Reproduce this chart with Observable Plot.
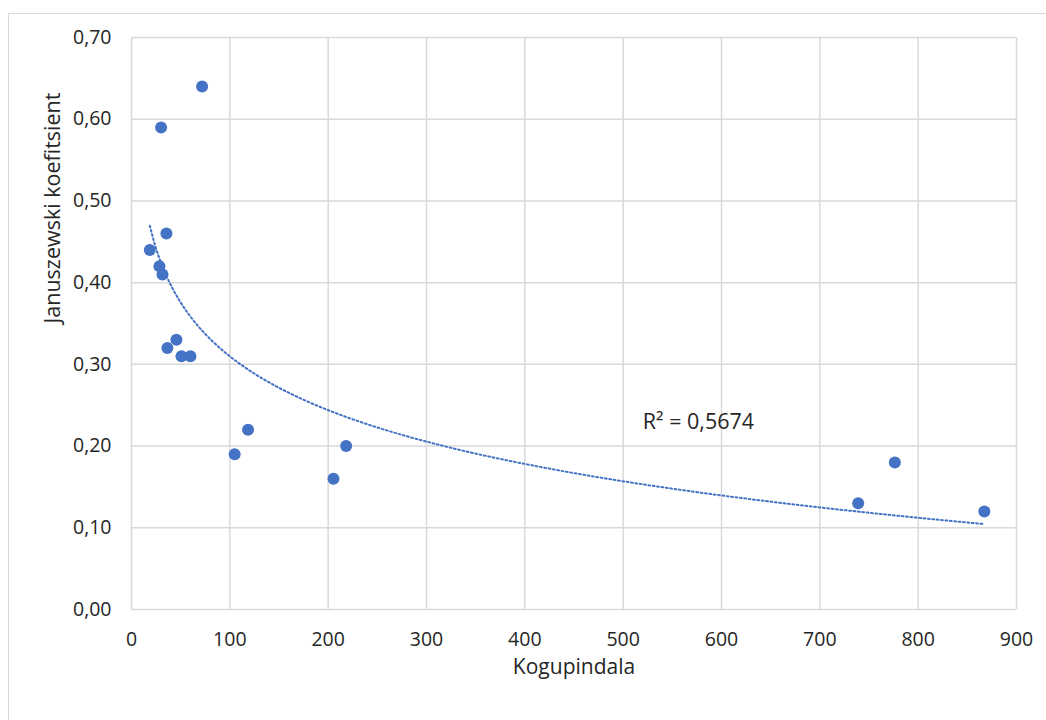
<!DOCTYPE html>
<html>
<head>
<meta charset="utf-8">
<script src="https://cdn.jsdelivr.net/npm/d3@7"></script>
<script src="https://cdn.jsdelivr.net/npm/@observablehq/plot@0.6"></script>
<style>
  html, body { margin: 0; padding: 0; background: #fff; }
  #wrap { position: relative; width: 1046px; height: 720px; overflow: hidden; }
  #border { position: absolute; left: 8px; top: 13px; width: 1200px; height: 900px; border: 1.5px solid #d9d9d9; box-sizing: border-box; }
  #chart { position: absolute; left: 0; top: 0; }
</style>
</head>
<body>
<div id="wrap"><div id="border"></div><div id="chart"></div></div>
<script>
// Data
const kogupindala = [18.6, 28.4, 31.5, 35.5, 45.7, 36.5, 50.8, 59.9, 71.8, 30.1, 104.9, 118.5, 205.4, 218.3, 739, 776.3, 867.3];
const januszewski = [0.44, 0.42, 0.41, 0.46, 0.33, 0.32, 0.31, 0.31, 0.64, 0.59, 0.19, 0.22, 0.16, 0.20, 0.13, 0.18, 0.12];
const xTicks = [0, 100, 200, 300, 400, 500, 600, 700, 800, 900];
const yTicks = [0, 0.1, 0.2, 0.3, 0.4, 0.5, 0.6, 0.7];
const xTitle = "Kogupindala";
const yTitle = "Januszewski koefitsient";
const r2Text = "R² = 0,5674";
const r2Pos = {x: 520, y: 0.229};

const points = kogupindala.map((x, i) => ({x, y: januszewski[i]}));

// Logarithmic trendline fitted to the data: y = a ln(x) + b
const L = kogupindala.map(Math.log);
const mL = d3.mean(L), mY = d3.mean(januszewski);
const sxy = d3.sum(L, (l, i) => (l - mL) * (januszewski[i] - mY));
const sxx = d3.sum(L, l => (l - mL) ** 2);
const a = sxy / sxx, b = mY - a * mL;
const [xmin, xmax] = d3.extent(kogupindala);
const trend = d3.range(0, 201).map(i => {
  const x = xmin + (xmax - xmin) * i / 200;
  return {x, y: a * Math.log(x) + b};
});

const font = "'Open Sans', sans-serif";
const grid = "#d9d9d9";
const blue = "#4472C4";
const ink = "#262626";

const chart = Plot.plot({
  width: 1046,
  height: 720,
  marginLeft: 131,
  marginRight: 30,
  marginTop: 37,
  marginBottom: 111,
  style: {fontFamily: font, fontSize: "19.5px", color: ink, background: "transparent"},
  x: {domain: [0, 900]},
  y: {domain: [0, 0.7]},
  marks: [
    Plot.gridX(xTicks, {stroke: grid, strokeOpacity: 1, strokeWidth: 1.5}),
    Plot.gridY(yTicks, {stroke: grid, strokeOpacity: 1, strokeWidth: 1.5}),
    Plot.axisX(xTicks, {tickSize: 0, tickPadding: 23, label: null, fill: ink, fontSize: 19.5}),
    Plot.axisY(yTicks, {tickSize: 0, tickPadding: 20, label: null, fill: ink, fontSize: 19.5,
      tickFormat: d => d.toFixed(2).replace(".", ",")}),
    Plot.line(trend, {x: "x", y: "y", stroke: blue, strokeWidth: 2, strokeDasharray: "1.8,2.6"}),
    Plot.dot(points, {x: "x", y: "y", r: 6, fill: blue, stroke: "none"}),
    Plot.text([r2Text], {x: r2Pos.x, y: r2Pos.y, text: d => d, textAnchor: "start", fontSize: 21.5, fill: ink}),
    Plot.text([xTitle], {frameAnchor: "bottom", dy: 64, text: d => d, fontSize: 21, fill: ink}),
    Plot.text([yTitle], {frameAnchor: "left", dx: -78, rotate: -90, text: d => d, fontSize: 21.5, fill: ink})
  ]
});
document.getElementById("chart").appendChild(chart);
</script>
</body>
</html>
